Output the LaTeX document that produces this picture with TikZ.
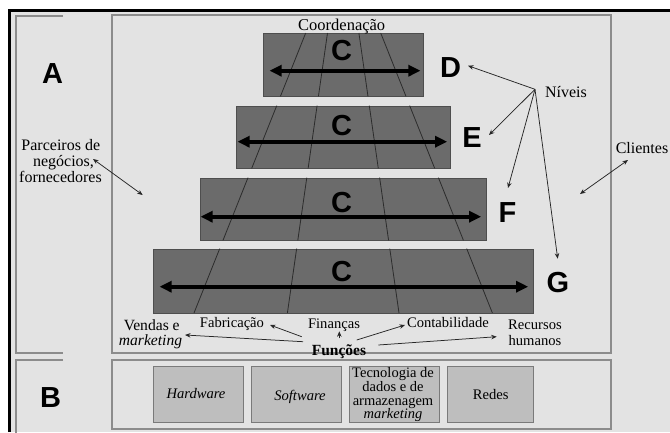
\documentclass[tikz,border=0pt]{standalone}
\usepackage{fontspec}
\setmainfont{Liberation Serif}
\newfontfamily\lettersans{Liberation Sans}
\usetikzlibrary{arrows.meta}

\definecolor{bggray}{HTML}{E3E3E3}
\definecolor{framegray}{HTML}{8C8C8C}
\definecolor{bargray}{HTML}{6B6B6B}
\definecolor{baredge}{HTML}{4E4E4E}
\definecolor{seamgray}{HTML}{2C2C2C}
\definecolor{cellgray}{HTML}{BEBEBE}
\definecolor{celledge}{HTML}{7A7A7A}

\tikzset{
  panel/.style={draw=framegray, line width=1.5pt},
  levelbar/.style={rectangle, fill=bargray, draw=baredge, line width=0.9pt, inner sep=0pt},
  cellbox/.style={rectangle, fill=cellgray, draw=celledge, line width=1pt, inner sep=0pt},
  seam/.style={draw=seamgray, line width=0.8pt},
  levelspan/.style={line width=4pt, {Triangle[length=12pt,width=11pt]}-{Triangle[length=12pt,width=11pt]}},
  ptr/.style={line width=0.75pt, draw=black!85, -{Stealth[length=5.5pt,width=4.5pt]}},
  bothway/.style={line width=0.75pt, draw=black!85, {Stealth[length=5.5pt,width=4.5pt]}-{Stealth[length=5.5pt,width=4.5pt]}},
  bigletter/.style={font=\lettersans\bfseries\fontsize{29}{29}\selectfont, inner sep=0pt, anchor=base},
  txt/.style={font=\fontsize{16}{16}\selectfont, inner sep=0pt, anchor=base},
  smalltxt/.style={font=\fontsize{14.6}{14.6}\selectfont, inner sep=0pt, anchor=base},
}

\begin{document}
\begin{tikzpicture}[x=1pt,y=-1pt]
\useasboundingbox (0,0) rectangle (670,432);
\fill[white] (0,0) rectangle (670,432);
\fill[bggray] (9.5,10.5) rectangle (670,432);
\draw[black, line width=2.8pt] (9.5,432) -- (9.5,10.5) -- (670,10.5);

% side panels A and B
\draw[panel] (63,16) -- (16,16) -- (16,353) -- (63,353);
\draw[panel] (63,360) -- (16,360) -- (16,433);
% main panels
\draw[panel] (112,15) rectangle (611,353);
\draw[panel] (112,360) rectangle (611,429);

% the four levels
\node[levelbar, minimum width=160pt, minimum height=63pt] (barD) at (343,64.5) {};
\node[levelbar, minimum width=214pt, minimum height=62pt] (barE) at (343,137) {};
\node[levelbar, minimum width=286pt, minimum height=62pt] (barF) at (343,209) {};
\node[levelbar, minimum width=380pt, minimum height=64pt] (barG) at (343,281) {};

% function seams converging upwards
\begin{scope}
  \clip (barD.south west) rectangle (barD.north east)
        (barE.south west) rectangle (barE.north east)
        (barF.south west) rectangle (barF.north east)
        (barG.south west) rectangle (barG.north east);
  \draw[seam] (305.7,33) -- (194,313);
  \draw[seam] (327.5,33) -- (287.4,313);
  \draw[seam] (358.9,33) -- (399,313);
  \draw[seam] (380.7,33) -- (492.4,313);
\end{scope}

% coordination arrows
\draw[levelspan] ([shift={(7,6.2)}]barD.west) -- ([shift={(-3,6.2)}]barD.east);
\draw[levelspan] ([shift={(2,4.7)}]barE.west) -- ([shift={(-3.3,4.7)}]barE.east);
\draw[levelspan] ([shift={(1,7.7)}]barF.west) -- ([shift={(-5.3,7.7)}]barF.east);
\draw[levelspan] ([shift={(7,5.7)}]barG.west) -- ([shift={(-5.3,5.7)}]barG.east);

\node[bigletter] (cD) at (341.7,60) {C};
\node[bigletter] (cE) at (341.7,135) {C};
\node[bigletter] (cF) at (341.7,212.5) {C};
\node[bigletter] (cG) at (341.7,281.5) {C};

% level letters and panel letters
\node[bigletter] (lD) at (450.5,77.5) {D};
\node[bigletter] (lE) at (472,147) {E};
\node[bigletter] (lF) at (507.5,222.5) {F};
\node[bigletter] (lG) at (558,292) {G};
\node[bigletter] (lA) at (52.5,83) {A};
\node[bigletter] (lB) at (50.5,407.7) {B};

% labels
\node[txt, font=\fontsize{16.5}{16.5}\selectfont] (coord) at (341.7,30.5) {Coordenação};
\node[txt] (parc1) at (60.8,150) {Parceiros de};
\node[txt] (parc2) at (63.5,166.5) {negócios,};
\node[txt] (parc3) at (60.5,182) {fornecedores};
\node[txt] (cli) at (642,153) {Clientes};
\node[txt] (niv) at (566,97) {Níveis};

\node[txt, font=\fontsize{15.6}{15.6}\selectfont] (vend1) at (151.7,330.5) {Vendas e};
\node[txt, font=\fontsize{15.6}{15.6}\selectfont\itshape] (vend2) at (150.5,345) {marketing};
\node[smalltxt] (fab) at (232,327.7) {Fabricação};
\node[smalltxt] (fin) at (334,328.5) {Finanças};
\node[smalltxt] (cont) at (448,327.7) {Contabilidade};
\node[smalltxt] (rec1) at (535,329.5) {Recursos};
\node[smalltxt] (rec2) at (535,345.3) {humanos};
\node[txt, font=\bfseries\fontsize{15.5}{15.5}\selectfont] (func) at (339,355.5) {Funções};

% infrastructure cells
\node[cellbox, minimum width=90pt, minimum height=56.7pt] (hw) at (198,394.4) {};
\node[cellbox, minimum width=90pt, minimum height=56.7pt] (sw) at (296,394.4) {};
\node[cellbox, minimum width=90.3pt, minimum height=56.7pt] (tec) at (394.2,394.4) {};
\node[cellbox, minimum width=86.4pt, minimum height=56.7pt] (net) at (490.5,394.4) {};
\node[smalltxt] (hwt) at (196,398.7) {\itshape Hardware};
\node[smalltxt] (swt) at (300,400) {\itshape Software};
\node[smalltxt, font=\fontsize{14.5}{14.5}\selectfont] (tec1) at (393,377.7) {Tecnologia de};
\node[smalltxt, font=\fontsize{14.5}{14.5}\selectfont] (tec2) at (393,391.7) {dados e de};
\node[smalltxt, font=\fontsize{14.5}{14.5}\selectfont] (tec3) at (393,405) {armazenagem};
\node[smalltxt, font=\fontsize{14.5}{14.5}\selectfont\itshape] (tec4) at (393,418.3) {marketing};
\node[smalltxt] (nett) at (490.8,399.3) {Redes};

% pointer ends
\coordinate (parcEnd) at (93,159);
\coordinate (parcIn) at (142.7,195);
\coordinate (cliEnd) at (628,160);
\coordinate (cliIn) at (580,194);
\coordinate (nivSrc) at (535,89.3);
\coordinate (toD) at (468,65.7);
\coordinate (toE) at (489,135);
\coordinate (toF) at (508,188);
\coordinate (toG) at (557.7,258.7);
\coordinate (fVend) at (303,341.7);
\coordinate (tVend) at (185,335);
\coordinate (fFab) at (301.7,336.7);
\coordinate (tFab) at (270,325);
\coordinate (fFin) at (339.3,338.3);
\coordinate (tFin) at (339.3,331.3);
\coordinate (fCont) at (356.7,340);
\coordinate (tCont) at (405,325);
\coordinate (fRec) at (378.3,345);
\coordinate (tRec) at (496.7,336.7);

\draw[bothway] (parcEnd) -- (parcIn);
\draw[bothway] (cliEnd) -- (cliIn);
\draw[ptr] (nivSrc) -- (toD);
\draw[ptr] (nivSrc) -- (toE);
\draw[ptr] (nivSrc) -- (toF);
\draw[ptr] (nivSrc) -- (toG);
\draw[ptr] (fVend) -- (tVend);
\draw[ptr] (fFab) -- (tFab);
\draw[ptr] (fFin) -- (tFin);
\draw[ptr] (fCont) -- (tCont);
\draw[ptr] (fRec) -- (tRec);
\end{tikzpicture}
\end{document}
